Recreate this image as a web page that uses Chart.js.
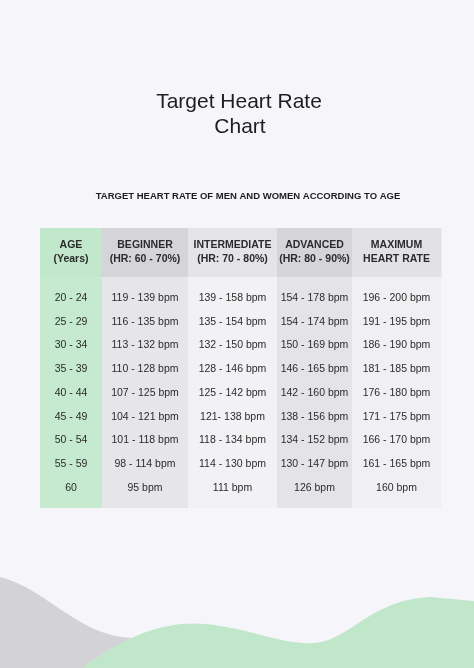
<!DOCTYPE html>
<html><head><meta charset="utf-8">
<script src="https://cdn.jsdelivr.net/npm/chart.js@4"></script>
<style>html,body{margin:0;padding:0;background:#f6f6fa;}#wrap{width:474px;height:668px;}</style>
</head><body><div id="wrap"><canvas id="c"></canvas></div>
<script>
const titleLines = ["Target Heart Rate", "Chart"];
const subtitle = "TARGET HEART RATE OF MEN AND WOMEN ACCORDING TO AGE";
const headers = [["AGE","(Years)"],["BEGINNER","(HR: 60 - 70%)"],["INTERMEDIATE","(HR: 70 - 80%)"],["ADVANCED","(HR: 80 - 90%)"],["MAXIMUM","HEART RATE"]];
const ages = ["20 - 24","25 - 29","30 - 34","35 - 39","40 - 44","45 - 49","50 - 54","55 - 59","60"];
const beginner = ["119 - 139 bpm","116 - 135 bpm","113 - 132 bpm","110 - 128 bpm","107 - 125 bpm","104 - 121 bpm","101 - 118 bpm","98 - 114 bpm","95 bpm"];
const intermediate = ["139 - 158 bpm","135 - 154 bpm","132 - 150 bpm","128 - 146 bpm","125 - 142 bpm","121- 138 bpm","118 - 134 bpm","114 - 130 bpm","111 bpm"];
const advanced = ["154 - 178 bpm","154 - 174 bpm","150 - 169 bpm","146 - 165 bpm","142 - 160 bpm","138 - 156 bpm","134 - 152 bpm","130 - 147 bpm","126 bpm"];
const maximum = ["196 - 200 bpm","191 - 195 bpm","186 - 190 bpm","181 - 185 bpm","176 - 180 bpm","171 - 175 bpm","166 - 170 bpm","161 - 165 bpm","160 bpm"];

const colWidths = [62,86,89,75,89];
const headColors = ["#c2e8cc","#d4d4d9","#e3e3e8","#d4d4d9","#e1e1e6"];
const bodyColors = ["#c5eacf","#e6e6ea","#f2f2f5","#e4e4e8","#f0f0f3"];
const edges=[0]; colWidths.forEach(w=>edges.push(edges[edges.length-1]+w));
const HEAD_END=2.07, ROW0=2.95, Y_MAX=11.8;
const columns=[ages,beginner,intermediate,advanced,maximum];

const tablePlugin={id:'table',
 beforeDraw(ch){const c=ch.ctx,W=ch.width,H=ch.height;
  c.save();c.fillStyle='#f6f6fa';c.fillRect(0,0,W,H);
  c.fillStyle='#d2d2d7';c.beginPath();c.moveTo(0,577);
  c.bezierCurveTo(50,590,80,640,140,638);c.lineTo(160,668);c.lineTo(0,668);c.closePath();c.fill();
  c.fillStyle='#c1e7cb';c.beginPath();c.moveTo(82,668);
  c.bezierCurveTo(120,640,160,620,205,624);c.bezierCurveTo(250,628,280,645,315,643);
  c.bezierCurveTo(350,640,370,600,430,597);c.lineTo(474,601);c.lineTo(474,668);c.closePath();c.fill();
  c.restore();},
 afterDraw(ch){const c=ch.ctx,x=ch.scales.x,y=ch.scales.y;
  c.save();
  for(let i=0;i<5;i++){const x0=x.getPixelForValue(edges[i]),x1=x.getPixelForValue(edges[i+1]);
   const yt=y.getPixelForValue(0),yh=y.getPixelForValue(HEAD_END),yb=y.getPixelForValue(Y_MAX);
   c.fillStyle=headColors[i];c.fillRect(x0,yt,x1-x0+0.5,yh-yt);
   c.fillStyle=bodyColors[i];c.fillRect(x0,yh,x1-x0+0.5,yb-yh);
   const xc=(x0+x1)/2;c.fillStyle='#2b2b2b';c.textAlign='center';c.textBaseline='middle';
   c.font='bold 10.5px "Liberation Sans", Arial, sans-serif';
   c.fillText(headers[i][0],xc,y.getPixelForValue(0.72));
   c.fillText(headers[i][1],xc,y.getPixelForValue(1.3));
   c.font='10.5px "Liberation Sans", Arial, sans-serif';
   columns[i].forEach((t,r)=>c.fillText(t,xc,y.getPixelForValue(ROW0+r)));
  }
  c.fillStyle='#1e1e1e';c.textAlign='center';c.textBaseline='middle';
  c.font='21px "Liberation Sans", Arial, sans-serif';
  c.fillText(titleLines[0],239,102);c.fillText(titleLines[1],240,127);
  c.font='bold 9.5px "Liberation Sans", Arial, sans-serif';
  c.fillText(subtitle,248,196);
  c.restore();}};

new Chart(document.getElementById('c'),{type:'scatter',data:{datasets:[{data:[]}]},
 options:{responsive:true,maintainAspectRatio:false,animation:false,
  layout:{padding:{left:40,right:33,top:228,bottom:160}},
  plugins:{legend:{display:false},tooltip:{enabled:false}},
  scales:{x:{type:'linear',min:0,max:edges[5],display:false},
          y:{type:'linear',min:0,max:Y_MAX,reverse:true,display:false}}},
 plugins:[tablePlugin]});
</script></body></html>
